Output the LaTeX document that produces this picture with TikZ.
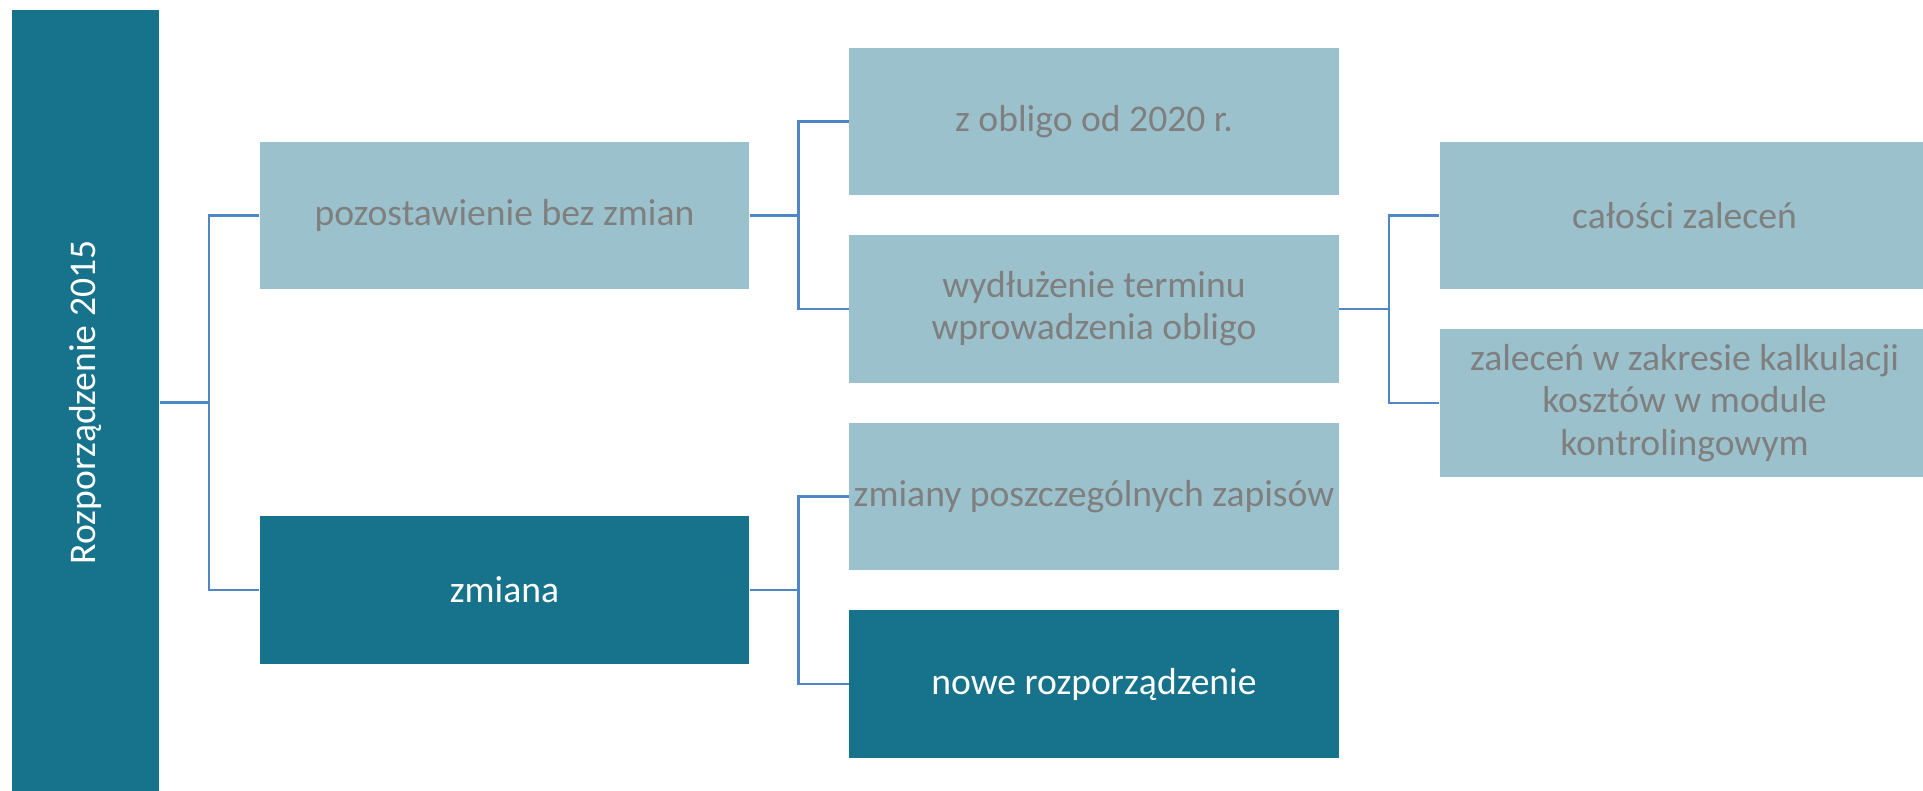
\documentclass[tikz,border=0pt]{standalone}
\usepackage{fontspec}
\setmainfont{Carlito}
\usepackage{graphicx}
\usepackage{tikz}
\definecolor{boxlight}{HTML}{9BC2CC}
\definecolor{boxdark}{HTML}{17728B}
\definecolor{txtgray}{HTML}{7F7F7F}
\definecolor{linkblue}{HTML}{4F86C6}
\tikzset{box/.style={rectangle, minimum width=4.89cm, minimum height=1.47cm, inner sep=0pt, align=center, font=\fontsize{10.7}{12}\selectfont},
  light/.style={box, fill=boxlight, text=txtgray},
  dark/.style={box, fill=boxdark, text=white},
  link/.style={draw=linkblue, line width=0.75pt}}

\begin{document}
\begin{tikzpicture}[x=0.01cm,y=-0.01cm]
  \useasboundingbox (0,0) rectangle (1923,791);
  \node[dark, minimum width=1.47cm, minimum height=7.85cm] (root) at (85.5, 402.5)
    {\rotatebox{90}{Rozporządzenie 2015}};
  \foreach \n/\x/\y/\s/\t in {
    keep/504.5/215.4/light/pozostawienie bez zmian,
    change/504.5/590/dark/zmiana,
    obligo/1094/121.5/light/z obligo od 2020 r.,
    extend/1094/309/light/wydłużenie terminu\\wprowadzenia obligo,
    edits/1094/496.6/light/zmiany poszczególnych zapisów,
    newreg/1094/684/dark/nowe rozporządzenie,
    whole/1684.5/215.4/light/całości zaleceń,
    costs/1684.5/403/light/zaleceń w zakresie kalkulacji\\kosztów w module\\kontrolingowym%
  } {
    \node[\s] (\n) at (\x, \y) {\t};
  }
  \foreach \u/\v in {
    root/keep,
    root/change,
    keep/obligo,
    keep/extend,
    change/edits,
    change/newreg,
    extend/whole,
    extend/costs%
  }{
    \draw[link] (\v.west) -- ++(-50,0) |- (\u.east);
  }
\end{tikzpicture}
\end{document}
